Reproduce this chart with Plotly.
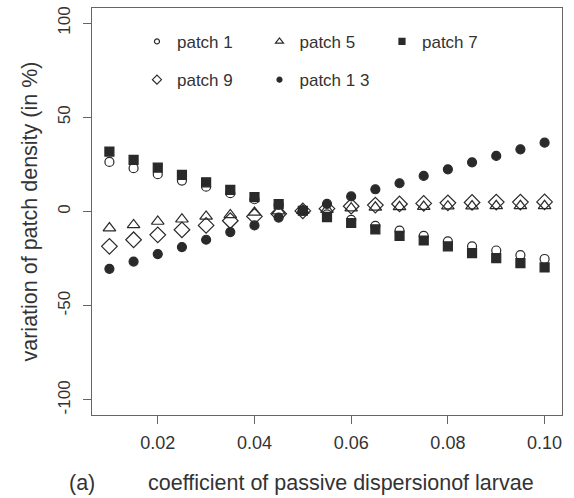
import plotly.graph_objects as go

x = [0.010, 0.015, 0.020, 0.025, 0.030, 0.035, 0.040, 0.045, 0.050, 0.055,
     0.060, 0.065, 0.070, 0.075, 0.080, 0.085, 0.090, 0.095, 0.100]

patch1 = [26.3, 23.0, 19.8, 16.4, 13.2, 9.7, 6.5, 3.5, 0.5, -1.5,
          -4.4, -7.6, -10.2, -12.9, -15.9, -18.5, -20.7, -23.1, -25.2]
patch5 = [-8.8, -7.1, -5.3, -4.1, -2.6, -1.8, -0.5, 0.2, 0.5, 1.0,
          1.8, 2.2, 2.5, 2.6, 2.8, 2.9, 3.0, 3.0, 3.0]
patch7 = [31.8, 27.4, 23.3, 19.4, 15.5, 11.5, 7.6, 3.9, 0.4, -3.0,
          -6.1, -9.5, -12.9, -15.4, -18.5, -22.1, -24.7, -27.4, -29.7]
patch9 = [-18.5, -15.0, -12.4, -9.7, -7.4, -4.9, -2.6, -1.2, 0.3, 1.5,
          2.8, 3.4, 4.0, 4.3, 4.6, 4.8, 5.0, 5.0, 5.1]
patch13 = [-30.4, -26.6, -22.6, -18.9, -15.0, -10.9, -7.4, -3.2, 0.5, 4.0,
           8.0, 11.8, 15.0, 18.9, 22.4, 26.1, 29.5, 33.0, 36.5]

series_names = ["patch 1", "patch 5", "patch 7", "patch 9", "patch 1 3"]
series_values = [patch1, patch5, patch7, patch9, patch13]

x_ticks = [0.02, 0.04, 0.06, 0.08, 0.10]
x_ticktext = ["0.02", "0.04", "0.06", "0.08", "0.10"]
y_ticks = [-100, -50, 0, 50, 100]
y_ticktext = ["-100", "-50", "0", "50", "100"]

INK = "#2a2a2a"
TXT = "#333333"
FONT = "Liberation Sans"
symbols = ["circle-open", "triangle-up-open", "square", "diamond-open", "circle"]
plot_sizes = [9, 11, 9, 12, 9]
legend_sizes = [5, 7, 6, 7, 5]
legend_ids = ["legend", "legend", "legend", "legend2", "legend2"]

fig = go.Figure()
for name, vals, sym, sz in zip(series_names, series_values, symbols, plot_sizes):
    fig.add_trace(go.Scatter(
        x=x, y=vals, mode="markers", name=name, showlegend=False,
        marker=dict(symbol=sym, size=sz, color=INK, line=dict(color=INK, width=1.2)),
    ))
for name, sym, sz, lg in zip(series_names, symbols, legend_sizes, legend_ids):
    fig.add_trace(go.Scatter(
        x=[None], y=[None], mode="markers", name=name, showlegend=True, legend=lg,
        marker=dict(symbol=sym, size=sz, color=INK, line=dict(color=INK, width=1.2)),
    ))

axis_common = dict(
    showgrid=False, zeroline=False, showline=True, mirror=True,
    linecolor="#666666", linewidth=1, ticks="outside", ticklen=8,
    tickcolor="#666666", tickwidth=1,
)

fig.update_layout(
    width=574, height=498,
    margin=dict(l=92, r=12, t=6, b=82.5),
    paper_bgcolor="white", plot_bgcolor="white",
    font=dict(family=FONT, color=TXT),
    xaxis=dict(range=[0.0064, 0.1036], tickvals=x_ticks, ticktext=x_ticktext,
               ticklabelstandoff=3, tickfont=dict(family=FONT, size=18, color=TXT),
               **axis_common),
    yaxis=dict(range=[-108, 108], tickvals=y_ticks, ticktext=y_ticktext,
               tickangle=-90, ticklabelstandoff=6,
               tickfont=dict(family=FONT, size=17, color=TXT), **axis_common),
    legend=dict(orientation="h", x=0.0957, y=0.961, xanchor="left", yanchor="top",
                entrywidth=77.5, bgcolor="rgba(0,0,0,0)",
                font=dict(family=FONT, size=17, color=TXT)),
    legend2=dict(orientation="h", x=0.0957, y=0.867, xanchor="left", yanchor="top",
                 entrywidth=77.5, bgcolor="rgba(0,0,0,0)",
                 font=dict(family=FONT, size=17, color=TXT)),
    annotations=[
        dict(text="coefficient of passive dispersionof larvae", xref="paper", yref="paper",
             x=0.53, y=0, yshift=-67.5, showarrow=False, xanchor="center", yanchor="middle",
             font=dict(family=FONT, size=21.5, color=TXT)),
        dict(text="variation of patch density (in %)", xref="paper", yref="paper",
             x=0, xshift=-63, y=0.5, showarrow=False, textangle=-90,
             xanchor="center", yanchor="middle",
             font=dict(family=FONT, size=21.5, color=TXT)),
        dict(text="(a)", xref="paper", yref="paper",
             x=0, xshift=-10, y=0, yshift=-67.5, showarrow=False,
             xanchor="center", yanchor="middle",
             font=dict(family=FONT, size=21.5, color=TXT)),
    ],
)

fig.write_html("out.html", config={"displayModeBar": False},
               post_script="document.body.style.margin='0';")
